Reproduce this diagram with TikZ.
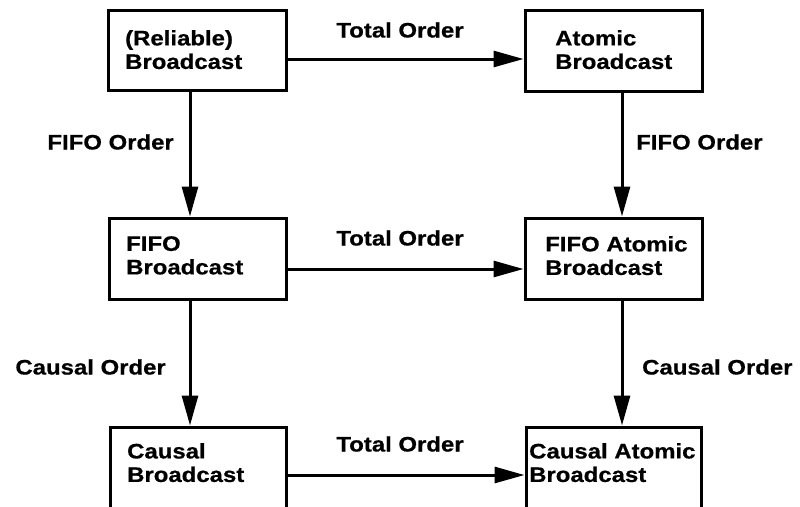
\documentclass[tikz,border=0pt]{standalone}
\usepackage{fontspec}
\setmainfont{Liberation Sans}[FakeStretch=1.14,BoldFeatures={FakeBold=0.6}]
\usetikzlibrary{arrows.meta}
\begin{document}
\begin{tikzpicture}[x=1pt,y=-1pt,
  box/.style={draw=black,line width=3pt,rectangle,inner sep=0pt},
  txt/.style={anchor=north west,align=left,inner sep=0pt,font=\fontsize{21}{23.5}\selectfont\bfseries},
  lbl/.style={inner sep=0pt,font=\fontsize{21}{23.5}\selectfont\bfseries},
  arr/.style={line width=3pt,-{Triangle[length=30pt,width=16pt]}}]
\useasboundingbox (0,0) rectangle (800,506);
% boxes
\node[box,minimum width=178pt,minimum height=80pt] (b1) at (197,50) {};
\node[box,minimum width=177pt,minimum height=81pt] (b2) at (613.5,50.5) {};
\node[box,minimum width=177pt,minimum height=81pt] (b3) at (197.5,258.5) {};
\node[box,minimum width=177pt,minimum height=81pt] (b4) at (613.5,258.5) {};
\node[box,minimum width=176pt,minimum height=83pt] (b5) at (198,468.5) {};
\node[box,minimum width=175pt,minimum height=83pt] (b6) at (613.5,468.5) {};
% texts
\node[txt] (t1) at (125,30) {(Reliable)\\Broadcast};
\node[txt] (t2) at (555,30) {Atomic\\Broadcast};
\node[txt] (t3) at (126,236) {FIFO\\Broadcast};
\node[txt] (t4) at (545,236) {FIFO Atomic\\Broadcast};
\node[txt] (t5) at (127,443) {Causal\\Broadcast};
\node[txt] (t6) at (529,443) {Causal Atomic\\Broadcast};
% horizontal arrows
\coordinate (h1) at (0,59);
\coordinate (h2) at (0,269);
\coordinate (h3) at (0,475);
\draw[arr] (b1.east |- h1) -- (b2.west |- h1);
\draw[arr] (b3.east |- h2) -- (b4.west |- h2);
\draw[arr] (b5.east |- h3) -- (b6.west |- h3);
\node[lbl] (l1) at (400,30) {Total Order};
\node[lbl] (l2) at (400,238) {Total Order};
\node[lbl] (l3) at (400,444) {Total Order};
% vertical arrows
\coordinate (vl) at (190,0);
\coordinate (vr) at (622,0);
\draw[arr] (b1.south -| vl) -- (b3.north -| vl);
\draw[arr] (b2.south -| vr) -- (b4.north -| vr);
\draw[arr] (b3.south -| vl) -- (b5.north -| vl);
\draw[arr] (b4.south -| vr) -- (b6.north -| vr);
\node[lbl,anchor=east] (l4) at (174,142) {FIFO Order};
\node[lbl,anchor=west] (l5) at (636,142) {FIFO Order};
\node[lbl,anchor=east] (l6) at (166,367) {Causal Order};
\node[lbl,anchor=west] (l7) at (642,367) {Causal Order};
\end{tikzpicture}
\end{document}
